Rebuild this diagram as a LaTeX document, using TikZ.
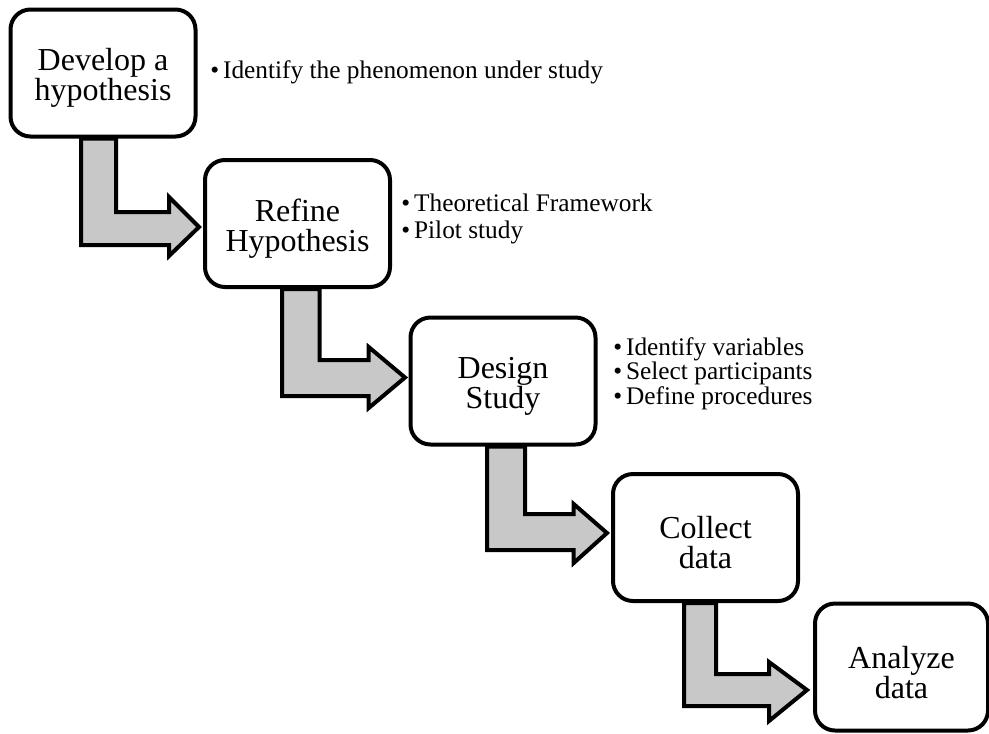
\documentclass[tikz,border=0pt]{standalone}
\usepackage{fontspec}
\setmainfont{Liberation Serif}
\usetikzlibrary{backgrounds}
\definecolor{arrowgray}{RGB}{200,200,200}
\newcommand{\stagetext}[2]{\rule{0pt}{24.5pt}#1\\#2}
\begin{document}
\begin{tikzpicture}[x=0.75pt,y=-0.75pt,
  stagebox/.style={draw=black, line width=3pt, fill=white, rounded corners=15pt,
    minimum width=138.75pt, minimum height=95.25pt, inner sep=0pt, align=center,
    font=\fontsize{24}{22.5}\selectfont},
  fatarrow/.style={draw=black, line width=3pt, fill=arrowgray, line join=miter},
  bullettext/.style={anchor=base west, inner sep=0pt, font=\fontsize{19}{19}\selectfont}]
\useasboundingbox (0,0) rectangle (989,733);
\clip (0,0) rectangle (989,733);

% stage boxes
\node[stagebox] (b1) at (103,73)    {\stagetext{Develop a}{hypothesis}};
\node[stagebox] (b2) at (297.5,223.5) {\stagetext{Refine}{Hypothesis}};
\node[stagebox] (b3) at (503,381)   {\stagetext{Design}{Study}};
\node[stagebox] (b4) at (705.5,537.5) {\stagetext{Collect}{data}};
\node[stagebox, minimum width=129.75pt] (b5) at (901.5,667) {\stagetext{Analyze}{data}};

% bent block arrows
\begin{pgfonlayer}{background}
\path[fatarrow] (81,0 |- b1.south) -- (81,245) -- (169,245) -- (169,256) -- (199,227)
  -- (169,197) -- (169,212) -- (116,212) -- (116,0 |- b1.south) -- cycle;
\path[fatarrow] (282,0 |- b2.south) -- (282,396) -- (368.7,396) -- (368.7,408) -- (405,377.5)
  -- (368.7,347) -- (368.7,360) -- (319.7,360) -- (319.7,0 |- b2.south) -- cycle;
\path[fatarrow] (487,0 |- b3.south) -- (487,550) -- (573.7,550) -- (573.7,563) -- (607,533)
  -- (573.7,504) -- (573.7,514) -- (525,514) -- (525,0 |- b3.south) -- cycle;
\path[fatarrow] (684,0 |- b4.south) -- (684,706) -- (769,706) -- (769,721) -- (807,690)
  -- (769,662) -- (769,674) -- (716,674) -- (716,0 |- b4.south) -- cycle;
\end{pgfonlayer}

% bullet texts
\node[bullettext] (t1a) at (210,78)  {•\kern3pt Identify the phenomenon under study};
\node[bullettext] (t2a) at (401,211) {•\kern3pt Theoretical Framework};
\node[bullettext] (t2b) at (401,238) {•\kern3pt Pilot study};
\node[bullettext] (t3a) at (613,355) {•\kern3pt Identify variables};
\node[bullettext] (t3b) at (613,379) {•\kern3pt Select participants};
\node[bullettext] (t3c) at (613,404) {•\kern3pt Define procedures};
\end{tikzpicture}
\end{document}
